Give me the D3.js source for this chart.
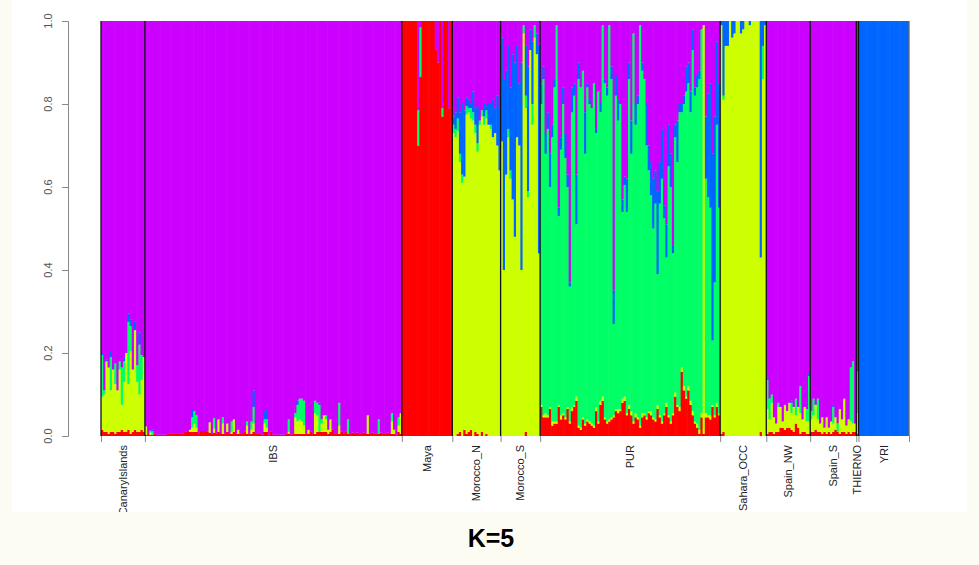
<!DOCTYPE html>
<html><head><meta charset="utf-8">
<script src="https://cdn.jsdelivr.net/npm/d3@7"></script>
<style>html,body{margin:0;padding:0;background:#fcfcf3;} svg{display:block}</style>
</head><body><svg id="chart" width="979" height="565"></svg>
<script>
// ADMIXTURE K=5 ancestry proportions per individual: [red, yellow, green, blue]; purple = remainder
const groups = ["CanaryIslands","IBS","Maya","Morocco_N","Morocco_S","PUR","Sahara_OCC","Spain_NW","Spain_S","THIERNO","YRI"];
const components = ["red","yellow","green","blue","purple"];
const colors = ["#FF0000","#CCFF00","#00FF66","#0066FF","#CC00FF"];
const yTicks = [0, 0.2, 0.4, 0.6, 0.8, 1.0];
const title = "K=5";

const canaryIslands = [
[.015,.08,.10,.005],[.01,.09,.01,0],[.01,.17,0,.005],[.005,.16,0,0],[.01,.10,.08,.015],
[.01,.15,0,0],[.005,.12,.05,0],[.01,.10,0,0],[.01,.15,.02,0],[.015,.06,.09,0],
[.01,.12,.05,.01],[.01,.19,0,0],[.015,.11,.15,.02],[.005,.20,.06,.015],[.01,.15,0,0],
[.015,.24,0,.02],[.01,.12,.04,0],[.01,.09,.12,.03],[.015,.12,.06,0],[.01,.18,0,0]];

const ibs = [
[.003,.02,0,0],[.005,0,0,0],[.003,.005,.005,0],[.003,0,.008,.004],[.005,0,0,0],
[.003,0,0,0],[.003,0,0,0],[.003,0,0,0],[.003,0,0,0],[.003,0,0,0],
[.005,0,0,0],[.005,0,0,0],[.005,0,0,0],[.005,0,0,0],[.005,0,0,0],
[.005,0,0,0],[.005,0,0,0],[.005,0,0,0],[.01,0,0,0],[.012,0,0,0],
[.01,.005,0,0],[.01,.01,.025,.02],[.01,.02,.03,0],[.01,.01,.03,0],[.005,0,0,0],
[.012,0,0,0],[.012,0,0,0],[.012,0,0,0],[.01,0,0,0],[.008,.025,0,0],
[.005,0,0,0],[.008,.01,.025,0],[.005,0,0,0],[.01,.03,0,0],[.005,0,0,0],
[.005,.025,.015,0],[.005,0,0,0],[.01,.02,0,0],[.005,0,0,0],[.005,.005,.025,0],
[.01,.03,0,0],[.005,0,0,0],[.005,.01,0,0],[.005,0,0,0],[.005,0,0,0],
[.01,0,0,0],[.005,.02,.01,0],[.005,0,0,0],[.005,.01,.02,0],[.01,.02,.04,.04],
[.005,0,0,0],[.005,0,0,0],[.005,0,0,0],[.003,0,0,0],[.01,.02,.01,.02],
[.01,.01,.02,.025],[.003,0,0,0],[.01,0,0,0],[.003,0,0,0],[.003,0,0,0],
[.003,0,0,0],[.003,0,0,0],[.003,0,0,0],[.003,0,0,0],[.005,0,0,0],
[.005,.005,.03,0],[.003,0,0,0],[.005,0,0,0],[.005,.04,.01,0],[.005,.03,.04,.01],
[.005,.035,.05,0],[.005,.03,.055,0],[.005,.02,.06,0],[.005,0,0,0],[.005,.01,0,0],
[.01,0,0,0],[.005,0,0,0],[.005,.05,.03,0],[.01,.04,.03,0],[.01,0,.065,.005],
[.01,.02,.01,0],[.01,.04,0,0],[.01,.03,.01,0],[.005,.01,0,0],[.01,.03,0,0],
[.015,0,0,0],[.005,0,0,0],[.005,0,0,0],[.005,.02,.055,0],[.01,0,0,0],
[.005,0,0,0],[.01,0,0,0],[.005,0,.035,0],[.005,0,0,0],[.008,0,0,0],
[.005,0,0,0],[.008,0,0,0],[.005,0,0,0],[.005,0,0,0],[.008,0,0,0],
[.005,0,0,0],[.005,.045,0,0],[.005,0,0,0],[.008,0,0,0],[.005,0,0,0],
[.005,0,0,0],[.005,0,.035,0],[.008,0,0,0],[.005,0,0,0],[.005,0,0,0],
[.008,0,0,0],[.005,0,0,0],[.005,.03,.02,0],[.005,.01,0,0],[.003,0,0,0],
[.01,.015,.02,0],[.005,.05,0,0]];

const maya = [
[1,0,0,0],[1,0,0,0],[1,0,0,0],[1,0,0,0],[1,0,0,0],[1,0,0,0],[1,0,0,0],
[.70,0,.085,0],[.865,0,.12,0],[1,0,0,0],[1,0,0,0],[1,0,0,0],[1,0,0,0],[1,0,0,0],
[1,0,0,0],[.93,0,0,0],[.90,0,0,0],[1,0,0,0],[.77,0,.02,0],[1,0,0,0],[1,0,0,0],
[.79,0,0,0],[1,0,0,0]];

const moroccoN = [
[0,.73,.02,.02],[0,.72,.02,.04],[.005,.73,.03,.05],[.01,.65,.02,.10],[0,.61,.02,.17],
[.015,.61,0,.16],[.005,.77,.02,.02],[.01,.77,.01,.02],[.015,.75,.025,.01],[0,.76,.02,.05],
[.01,.72,.02,.04],[.005,.68,.02,.09],[0,.75,.01,0],[.01,.76,.015,0],[0,.75,.02,.03],
[.005,.76,.02,.01],[0,.75,0,.05],[0,.74,.01,.05],[0,.72,0,.09],[0,.73,0,.06],
[0,.70,0,.12],[0,.64,0,.15]];

const moroccoS = [
[0,.71,0,.25],[0,.40,0,.46],[0,.63,0,.25],[0,.72,.02,.20],[0,.62,.02,.20],
[0,.57,0,.35],[0,.48,0,.42],[0,.72,0,.22],[0,.70,0,.15],[0,.40,0,.50],
[0,.97,.02,0],[.01,.78,.03,.12],[0,.575,.015,.30],[0,.93,0,.05],[0,.75,.05,.15],
[0,.96,.03,0],[0,.92,0,.05],[0,.44,0,.50]];

const pur = [
[.07,.005,.725,.05],[.045,.005,.81,.03],[.045,.01,.625,.05],[.045,.005,.69,.04],[.065,.005,.53,.08],
[.025,.01,.685,.03],[.03,.005,.805,.02],[.03,.005,.955,0],[.07,.005,.455,.02],[.04,.01,.64,.03],
[.05,.005,.745,.04],[.04,.005,.625,.06],[.065,.005,.53,.03],[.03,.005,.325,.01],[.06,.01,.71,.06],
[.07,.005,.745,.03],[.085,.01,.415,.12],[.02,.005,.835,.04],[.015,.005,.82,0],[.04,.005,.835,0],
[.025,.005,.65,.10],[.035,.005,.80,.01],[.03,.005,.765,.01],[.025,.005,.76,0],[.02,.005,.825,0],
[.06,.01,.66,.01],[.03,.005,.795,0],[.075,.01,.695,.02],[.085,.01,.895,0],[.04,.005,.805,.01],
[.03,.005,.785,.02],[.035,.005,.95,0],[.04,.005,.815,.03],[.045,.005,.22,.08],[.06,.005,.755,.05],
[.055,.01,.695,.05],[.06,.005,.735,0],[.08,.01,.45,.03],[.085,.01,.51,.02],[.05,.005,.485,.08],
[.065,.01,.785,.04],[.05,.01,.62,.08],[.03,.005,.935,0],[.045,.01,.695,.05],[.04,.005,.755,.02],
[.02,.005,.965,0],[.045,.01,.825,.02],[.05,.005,.805,0],[.04,.005,.655,.10],[.055,.005,.58,.06],
[.05,.01,.52,.08],[.04,.005,.455,.12],[.035,.005,.52,.08],[.065,.01,.315,.20],[.045,.005,.51,.10],
[.03,.005,.585,.12],[.05,.005,.47,.03],[.07,.01,.35,.08],[.045,.005,.60,.10],[.03,.005,.565,.08],
[.05,.005,.385,.02],[.095,.01,.615,.03],[.07,.005,.585,.10],[.06,.01,.71,.02],[.155,.01,.615,.02],
[.11,.01,.68,.02],[.09,.005,.735,.06],[.11,.01,.73,.05],[.075,.01,.695,.05],[.05,.01,.87,.05],
[.03,.005,.785,.02],[.02,.01,.81,.03],[.005,.01,.845,.02],[.045,.01,.925,0],[.005,.985,0,0],
[.045,.01,.565,.15],[.045,.005,.525,.25],[.04,.01,.50,.30],[.07,.005,.155,.45],[.045,.005,.32,.40],
[.07,.01,.67,.20],[.05,.005,.495,.30]];

const saharaOCC = [
[.005,.985,0,.01],[.01,.80,.01,.18],[0,.94,0,.06],[0,.94,0,.06],[0,1,0,0],
[0,.96,0,.04],[0,.97,0,.03],[0,1,0,0],[0,1,0,0],[0,.97,0,.03],
[0,.98,0,.02],[0,1,0,0],[0,1,0,0],[0,.99,0,.01],[0,1,0,0],
[0,1,0,0],[0,1,0,0],[0,1,0,0],[.01,.42,0,.57],[0,.86,.08,.06],[0,.99,0,.01]];

const spainNW = [
[.005,.06,.07,.005],[.01,.03,.05,0],[.01,.07,.02,0],[.005,.04,0,0],[.01,.02,0,0],
[.01,.06,.01,0],[.02,.05,0,0],[.02,.015,0,0],[.015,.06,0,0],[.02,.04,0,0],
[.02,.06,0,0],[.015,.04,.025,.005],[.01,.06,0,0],[.03,.02,.04,0],[.02,.05,0,0],
[.005,.05,.065,0],[.01,.03,0,0],[.01,.06,0,0],[.005,.03,.03,0],[.005,.03,.11,.005]];

const spainS = [
[.01,.03,.02,0],[.01,.04,.04,0],[.015,.06,0,0],[.01,.03,.05,0],[.01,.02,0,0],
[.005,.04,0,0],[.01,.01,0,0],[.005,.04,0,0],[.01,.01,0,0],[.005,.03,0,0],
[.01,.02,.04,.005],[.015,.03,0,0],[.01,0,.02,0],[.005,.06,0,0],[.01,.03,0,0],
[.01,.08,0,0],[.005,.02,0,0],[.01,.03,0,0],[.005,.03,.13,0],[.01,.02,.15,0],[.01,.02,0,0]];

const thierno = [[.005,.05,.10,0]];

const yri = [
[0,0,0,1],[0,0,0,1],[0,0,0,1],[0,0,0,1],[0,0,0,1],[0,0,0,1],[0,0,0,1],[0,0,0,1],
[0,0,0,1],[0,0,0,1],[0,0,0,1],[0,0,0,1],[0,0,0,1],[0,0,0,1],[0,0,0,1],[0,0,0,1],
[0,0,0,1],[0,0,0,1],[0,0,0,1],[0,0,0,1],[0,0,0,1],[0,0,0,1],[0,0,0,1]];

const groupData = [canaryIslands, ibs, maya, moroccoN, moroccoS, pur, saharaOCC, spainNW, spainS, thierno, yri];

// ---------- build rows ----------
const rows = [];
const bounds = [0];
groupData.forEach((arr, gi) => {
  arr.forEach(v => {
    const s = v[0]+v[1]+v[2]+v[3];
    rows.push({group: groups[gi], red:v[0], yellow:v[1], green:v[2], blue:v[3], purple:Math.max(0, 1 - s)});
  });
  bounds.push(rows.length);
});
const N = rows.length;

const svg = d3.select("#chart");
svg.append("rect").attr("width",979).attr("height",565).attr("fill","#fcfcf3");
svg.append("rect").attr("x",12).attr("y",0).attr("width",955).attr("height",512).attr("fill","#ffffff");
svg.append("defs").append("clipPath").attr("id","panel")
  .append("rect").attr("x",12).attr("y",0).attr("width",955).attr("height",512);
const g = svg.append("g").attr("clip-path","url(#panel)");

const x = d3.scaleLinear().domain([0, N]).range([101, 909]);
const y = d3.scaleLinear().domain([0, 1]).range([436, 21]);
const color = d3.scaleOrdinal().domain(components).range(colors);

const series = d3.stack().keys(components)(rows);
const bars = g.append("g");
rows.forEach((r, i) => {
  const bg = bars.append("g");
  series.forEach(layer => {
    const d = layer[i];
    const h = y(d[0]) - y(d[1]);
    if (h <= 0) return;
    bg.append("rect")
      .attr("x", x(i))
      .attr("width", x(i+1) - x(i) + (i < N-1 ? 0.6 : 0))
      .attr("y", y(d[1]))
      .attr("height", h)
      .attr("fill", color(layer.key));
  });
});

// group separators
g.append("g").selectAll("line").data(bounds).join("line")
  .attr("x1", d => x(d)).attr("x2", d => x(d))
  .attr("y1", y(0)).attr("y2", y(1))
  .attr("stroke", (d,i) => i === bounds.length-1 ? "#666" : "#111")
  .attr("stroke-width", 1.3);

// bottom ticks at group boundaries
const xAxis = d3.axisBottom(x).tickValues(bounds).tickSize(6).tickFormat("");
const xa = g.append("g").attr("transform", `translate(0,${y(0)})`).call(xAxis);
xa.select(".domain").remove();
xa.selectAll(".tick line").attr("stroke","#888");

// group labels (rotated)
g.append("g").selectAll("text").data(groups).join("text")
  .attr("transform", (d,i) => `translate(${x((bounds[i]+bounds[i+1])/2)},445) rotate(-90)`)
  .attr("text-anchor","end")
  .attr("dominant-baseline","central")
  .attr("font-family","'Liberation Sans', Arial, Helvetica, sans-serif")
  .attr("font-size", 11)
  .attr("fill","#222")
  .text(d => d);

// y axis
const yAxis = d3.axisLeft(y).tickValues(yTicks).tickSize(6).tickFormat("");
const ya = g.append("g").attr("transform","translate(68,0)").call(yAxis);
ya.select(".domain").attr("stroke","#888");
ya.selectAll(".tick line").attr("stroke","#888");
g.append("g").selectAll("text").data(yTicks).join("text")
  .attr("transform", d => `translate(48,${y(d)}) rotate(-90)`)
  .attr("text-anchor","middle")
  .attr("dominant-baseline","central")
  .attr("font-family","'Liberation Sans', Arial, Helvetica, sans-serif")
  .attr("font-size", 11)
  .attr("fill","#555")
  .text(d => d3.format(".1f")(d));

// title
svg.append("text")
  .attr("x", 491).attr("y", 547)
  .attr("text-anchor","middle")
  .attr("font-family","'Liberation Sans', Arial, Helvetica, sans-serif")
  .attr("font-weight","bold")
  .attr("font-size", 25)
  .attr("fill","#000")
  .text(title);
</script>
</body></html>
